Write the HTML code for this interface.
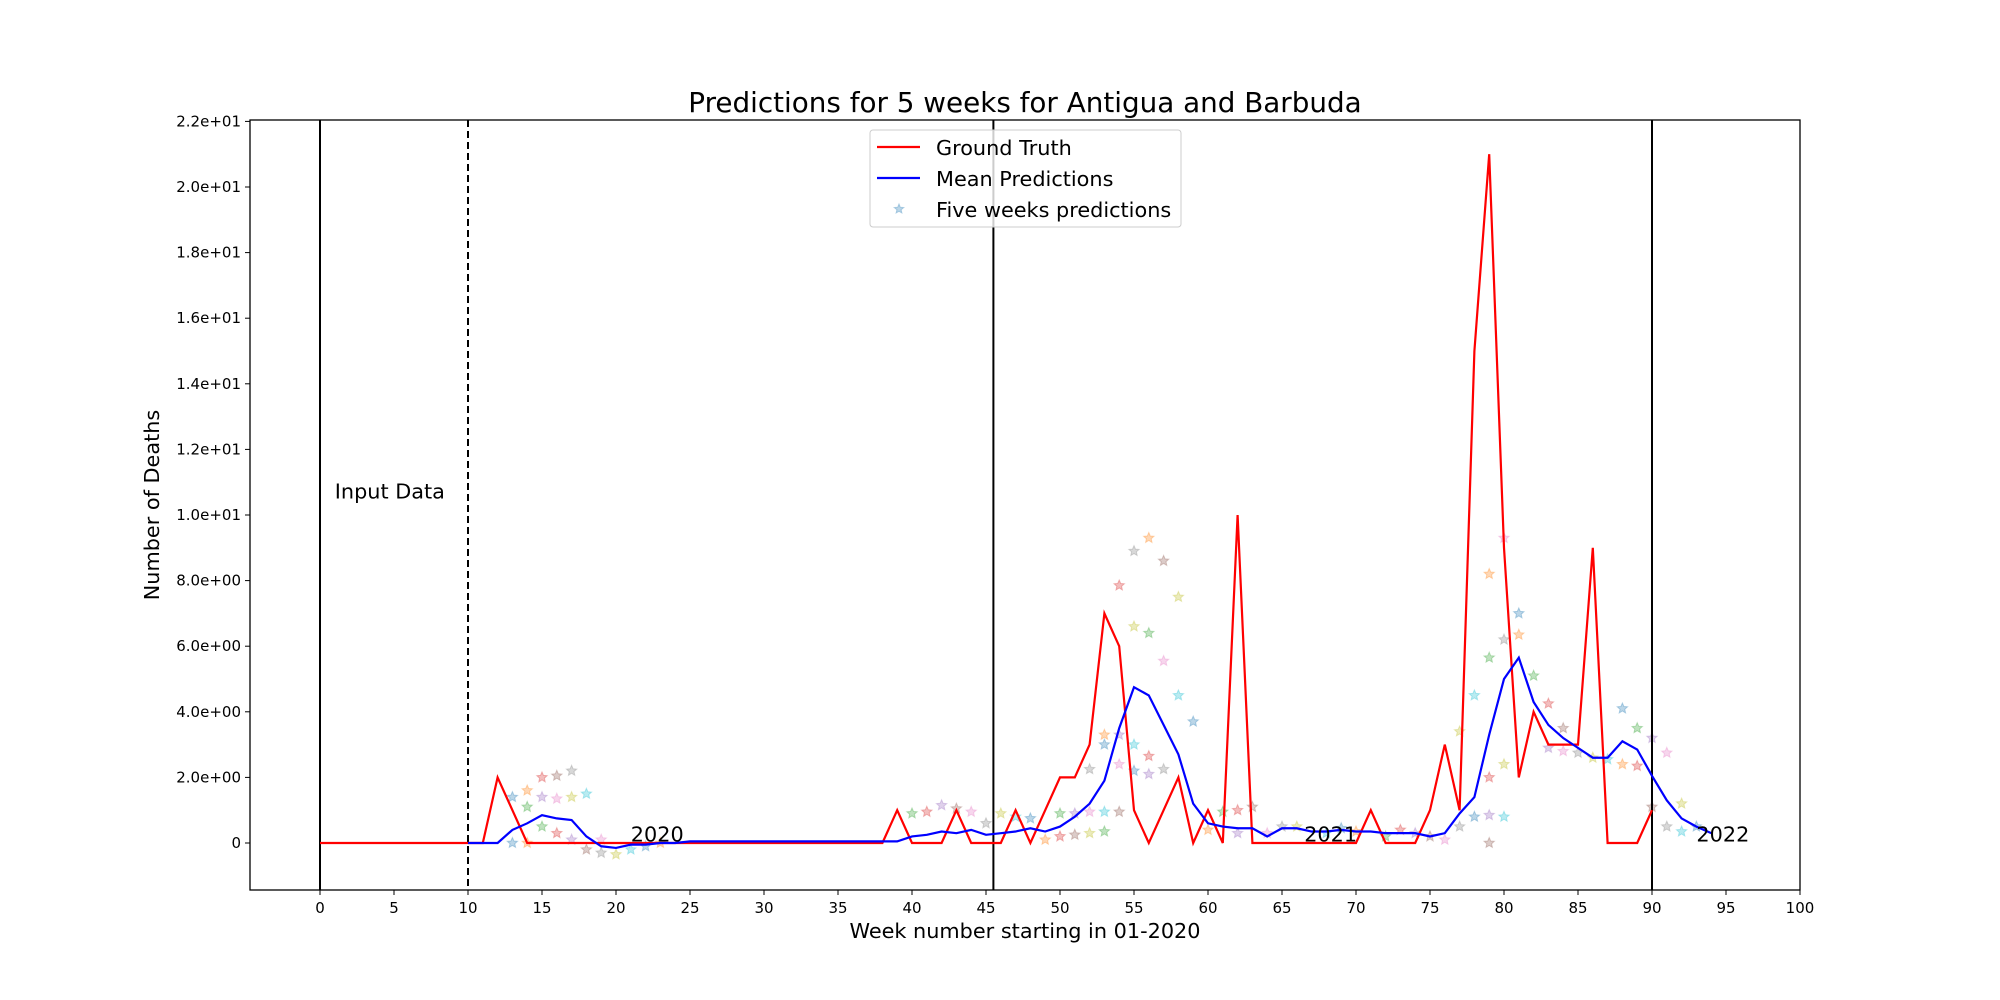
<!DOCTYPE html>
<html><head><meta charset="utf-8"><style>
html,body{margin:0;padding:0;background:#fff;}
svg{display:block;font-family:"DejaVu Sans","Liberation Sans",sans-serif;}
</style></head><body>
<svg id="chart" width="2000" height="1000" xmlns="http://www.w3.org/2000/svg">
<rect width="2000" height="1000" fill="#fff"/>
<text x="1025" y="112" font-size="27.8" text-anchor="middle">Predictions for 5 weeks for Antigua and Barbuda</text>
<g id="plot"></g>
<text x="1025" y="938" font-size="20.8" text-anchor="middle">Week number starting in 01-2020</text>
<text x="0" y="0" font-size="20.8" text-anchor="middle" transform="translate(159,505) rotate(-90)">Number of Deaths</text>
</svg>
<script>
const gtWeeks=[0,1,2,3,4,5,6,7,8,9,10,11,12,13,14,15,16,17,18,19,20,21,22,23,24,25,26,27,28,29,30,31,32,33,34,35,36,37,38,39,40,41,42,43,44,45,46,47,48,49,50,51,52,53,54,55,56,57,58,59,60,61,62,63,64,65,66,67,68,69,70,71,72,73,74,75,76,77,78,79,80,81,82,83,84,85,86,87,88,89,90];
const gtValues=[0,0,0,0,0,0,0,0,0,0,0,0,2,1,0,0,0,0,0,0,0,0,0,0,0,0,0,0,0,0,0,0,0,0,0,0,0,0,0,1,0,0,0,1,0,0,0,1,0,1,2,2,3,7,6,1,0,1,2,0,1,0,10,0,0,0,0,0,0,0,0,1,0,0,0,1,3,1,15,21,9,2,4,3,3,3,9,0,0,0,1];
const meanWeeks=[10,11,12,13,14,15,16,17,18,19,20,21,22,23,24,25,26,27,28,29,30,31,32,33,34,35,36,37,38,39,40,41,42,43,44,45,46,47,48,49,50,51,52,53,54,55,56,57,58,59,60,61,62,63,64,65,66,67,68,69,70,71,72,73,74,75,76,77,78,79,80,81,82,83,84,85,86,87,88,89,90,91,92,93,94];
const meanValues=[0,0,0,0.4,0.6,0.85,0.75,0.7,0.2,-0.1,-0.15,-0.05,-0.05,0,0,0.05,0.05,0.05,0.05,0.05,0.05,0.05,0.05,0.05,0.05,0.05,0.05,0.05,0.05,0.05,0.2,0.25,0.35,0.3,0.4,0.25,0.3,0.35,0.45,0.35,0.5,0.8,1.2,1.9,3.5,4.75,4.5,3.6,2.7,1.2,0.6,0.5,0.45,0.45,0.2,0.45,0.45,0.35,0.35,0.4,0.35,0.35,0.3,0.3,0.3,0.2,0.3,0.9,1.4,3.3,5.0,5.65,4.3,3.6,3.2,2.9,2.6,2.6,3.1,2.85,2.05,1.3,0.75,0.5,0.3];
const starWeeks=[13,14,14,15,15,16,16,17,17,18,13,14,15,16,17,18,19,19,20,21,22,23,40,41,42,43,44,45,46,47,48,49,50,50,51,51,52,52,52,53,53,53,53,54,54,54,54,55,55,55,55,56,56,56,56,57,57,57,58,58,59,60,61,62,62,63,64,65,66,68,69,70,72,73,74,75,76,77,77,78,78,79,79,79,79,79,80,80,80,80,81,81,82,83,83,84,84,85,86,87,88,88,89,89,90,90,91,91,92,92,93];
const starValues=[1.4,1.6,1.1,2.0,1.4,2.05,1.35,2.2,1.4,1.5,0,0,0.5,0.3,0.1,-0.2,0.1,-0.3,-0.35,-0.2,-0.1,0,0.9,0.95,1.15,1.05,0.95,0.6,0.9,0.8,0.75,0.1,0.9,0.2,0.9,0.25,0.95,2.25,0.3,0.95,3.0,3.3,0.35,7.85,3.3,0.95,2.4,8.9,6.6,3.0,2.2,9.3,6.4,2.65,2.1,8.6,5.55,2.25,7.5,4.5,3.7,0.4,0.95,1.0,0.3,1.1,0.3,0.5,0.5,0.3,0.45,0.35,0.2,0.4,0.3,0.2,0.1,0.5,3.4,4.5,0.8,8.2,5.65,2.0,0.85,0,9.3,6.2,2.4,0.8,7.0,6.35,5.1,4.25,2.9,3.5,2.8,2.75,2.6,2.55,4.1,2.4,3.5,2.35,3.2,1.1,2.75,0.5,1.2,0.35,0.5];
const xTicks=[0,5,10,15,20,25,30,35,40,45,50,55,60,65,70,75,80,85,90,95,100];
const yTicks=[0,2,4,6,8,10,12,14,16,18,20,22];
const yTickLabels=["0","2.0e+00","4.0e+00","6.0e+00","8.0e+00","1.0e+01","1.2e+01","1.4e+01","1.6e+01","1.8e+01","2.0e+01","2.2e+01"];

const L=250,R=1800,T=120,B=890;
const X=v=>320+(v)*14.8;
const Y=v=>843-v*32.8;
const NS="http://www.w3.org/2000/svg";
const g=document.getElementById('plot');
function mk(tag,attrs,parent){const e=document.createElementNS(NS,tag);for(const k in attrs)e.setAttribute(k,attrs[k]);(parent||g).appendChild(e);return e;}
const cols=["#1f77b4","#ff7f0e","#2ca02c","#d62728","#9467bd","#8c564b","#e377c2","#7f7f7f","#bcbd22","#17becf"];
function starPts(cx,cy,r){let p=[];for(let i=0;i<10;i++){const a=-Math.PI/2+i*Math.PI/5;const rr=i%2?r*0.45:r;p.push((cx+rr*Math.cos(a)).toFixed(1)+','+(cy+rr*Math.sin(a)).toFixed(1));}return p.join(' ');}
starWeeks.forEach((w,i)=>{const s=mk('polygon',{points:starPts(X(w),Y(starValues[i]),5.5),fill:cols[i%10],'fill-opacity':0.3,stroke:cols[i%10],'stroke-opacity':0.3,'stroke-width':1});

});
[[0,''],[10,'7,4'],[45.5,''],[90,'']].forEach(([v,d])=>{const l=mk('line',{x1:X(v),x2:X(v),y1:T,y2:B,stroke:'#000','stroke-width':2,'stroke-dasharray':d});

});
const gt=mk('polyline',{points:gtWeeks.map((w,i)=>X(w)+','+Y(gtValues[i])).join(' '),fill:'none',stroke:'#ff0000','stroke-width':2.2});


const mn=mk('polyline',{points:meanWeeks.map((w,i)=>X(w)+','+Y(meanValues[i])).join(' '),fill:'none',stroke:'#0000ff','stroke-width':2.2});


[["Input Data",1,10.5,'input-data-label'],["2020",21,0.05,'year-2020-label'],["2021",66.5,0.05,'year-2021-label'],["2022",93,0.05,'year-2022-label']].forEach(([t,x,y,n])=>{const e=mk('text',{x:X(x),y:Y(y),'font-size':20.8});e.textContent=t;

});
const fr=mk('rect',{x:L,y:T,width:R-L,height:B-T,fill:'none',stroke:'#000','stroke-width':1.3});


xTicks.forEach(v=>{const t=mk('line',{x1:X(v),x2:X(v),y1:B,y2:B+5,stroke:'#000','stroke-width':1});


const l=mk('text',{x:X(v),y:B+23,'font-size':15,'text-anchor':'middle'});l.textContent=v;

});
yTicks.forEach((v,i)=>{const t=mk('line',{x1:L-5,x2:L,y1:Y(v),y2:Y(v),stroke:'#000','stroke-width':1});


const l=mk('text',{x:L-9,y:Y(v)+5,'font-size':15,'text-anchor':'end'});l.textContent=yTickLabels[i];

});
const lg=mk('g',{});


mk('rect',{x:870,y:130,width:311,height:97,rx:3,fill:'#fff','fill-opacity':0.8,stroke:'#ccc'},lg);
mk('line',{x1:877,x2:920,y1:147,y2:147,stroke:'#ff0000','stroke-width':2.2},lg);
mk('line',{x1:877,x2:920,y1:178,y2:178,stroke:'#0000ff','stroke-width':2.2},lg);
mk('polygon',{points:starPts(899,209,5),fill:'#1f77b4','fill-opacity':0.3,stroke:'#1f77b4','stroke-opacity':0.3},lg);
[["Ground Truth",155,'legend-ground-truth'],["Mean Predictions",186,'legend-mean-predictions'],["Five weeks predictions",217,'legend-five-weeks-predictions']].forEach(([t,y,n])=>{const e=mk('text',{x:936,y:y,'font-size':20.8},lg);e.textContent=t;

});
</script>
</body></html>
